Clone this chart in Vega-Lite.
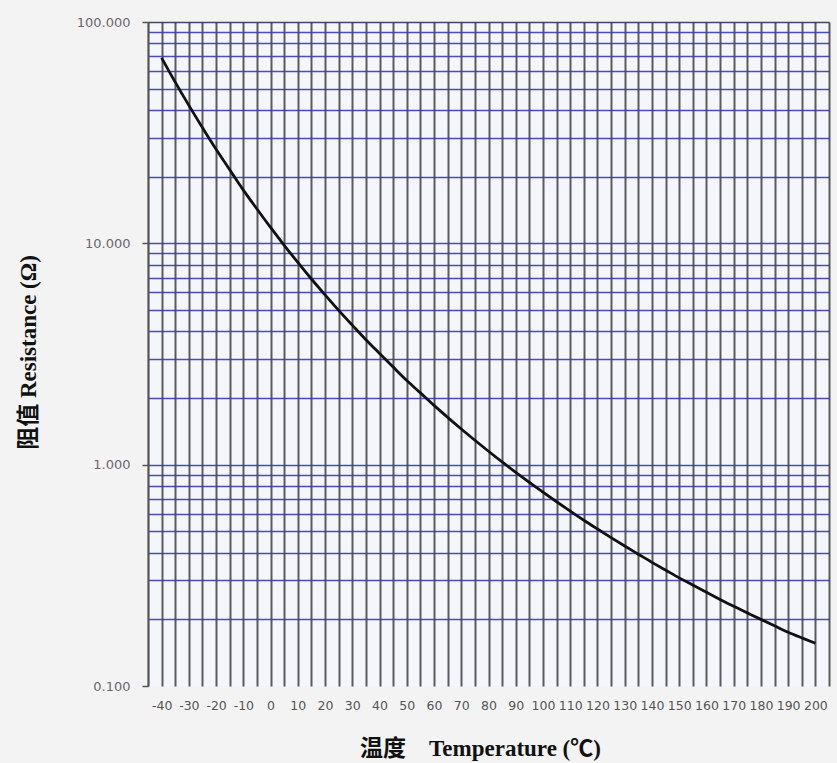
{
  "$schema": "https://vega.github.io/schema/vega-lite/v6.json",
  "width": 681,
  "height": 664,
  "autosize": {"type": "none"},
  "padding": {"left": 148, "top": 22, "right": 8, "bottom": 77},
  "background": "#f3f3f3",
  "config": {
    "view": {"stroke": null, "fill": "#f5f6fb"}
  },
  "data": {
    "values": [
      {"t": -40, "r": 68.9}, {"t": -35, "r": 53.5}, {"t": -30, "r": 42.0}, {"t": -25, "r": 33.3},
      {"t": -20, "r": 26.6}, {"t": -15, "r": 21.5}, {"t": -10, "r": 17.4}, {"t": -5, "r": 14.3},
      {"t": 0, "r": 11.8}, {"t": 5, "r": 9.8}, {"t": 10, "r": 8.2}, {"t": 15, "r": 6.9},
      {"t": 20, "r": 5.85}, {"t": 25, "r": 4.98}, {"t": 30, "r": 4.27}, {"t": 35, "r": 3.67},
      {"t": 40, "r": 3.18}, {"t": 45, "r": 2.76}, {"t": 50, "r": 2.40}, {"t": 55, "r": 2.11},
      {"t": 60, "r": 1.853}, {"t": 65, "r": 1.636}, {"t": 70, "r": 1.449}, {"t": 75, "r": 1.289},
      {"t": 80, "r": 1.150}, {"t": 85, "r": 1.029}, {"t": 90, "r": 0.924}, {"t": 95, "r": 0.832},
      {"t": 100, "r": 0.751}, {"t": 105, "r": 0.680}, {"t": 110, "r": 0.617}, {"t": 115, "r": 0.561},
      {"t": 120, "r": 0.512}, {"t": 125, "r": 0.468}, {"t": 130, "r": 0.429}, {"t": 135, "r": 0.394},
      {"t": 140, "r": 0.362}, {"t": 145, "r": 0.334}, {"t": 150, "r": 0.308}, {"t": 155, "r": 0.286},
      {"t": 160, "r": 0.265}, {"t": 165, "r": 0.246}, {"t": 170, "r": 0.229}, {"t": 175, "r": 0.214},
      {"t": 180, "r": 0.200}, {"t": 185, "r": 0.187}, {"t": 190, "r": 0.175}, {"t": 195, "r": 0.165},
      {"t": 200, "r": 0.156}
    ]
  },
  "mark": {"type": "line", "color": "#111111", "strokeWidth": 2.8, "interpolate": "monotone"},
  "encoding": {
    "x": {
      "field": "t",
      "type": "quantitative",
      "scale": {"domain": [-45, 205], "nice": false, "zero": false},
      "axis": {
        "values": [-45,-40,-35,-30,-25,-20,-15,-10,-5,0,5,10,15,20,25,30,35,40,45,50,55,60,65,70,75,80,85,90,95,100,105,110,115,120,125,130,135,140,145,150,155,160,165,170,175,180,185,190,195,200,205],
        "labelExpr": "(datum.value % 10 === 0 && datum.value >= -40 && datum.value <= 200) ? '' + datum.value : ''",
        "labelOverlap": false,
        "labelFlush": false,
        "labelFont": "DejaVu Sans",
        "labelFontSize": 12.5,
        "labelColor": "#555555",
        "labelPadding": 13,
        "ticks": false,
        "domain": false,
        "grid": true,
        "gridColor": "#4a4a4a",
        "gridWidth": 2,
        "gridOpacity": 0.9,
        "title": "温度\u3000Temperature (℃)",
        "titleFont": "Liberation Serif, Noto Sans CJK SC",
        "titleFontSize": 23,
        "titleFontWeight": "bold",
        "titleColor": "#111111",
        "titleX": 332,
        "titleY": 62,
        "titleAlign": "center",
        "titleBaseline": "middle"
      }
    },
    "y": {
      "field": "r",
      "type": "quantitative",
      "scale": {"type": "log", "domain": [0.1, 100], "nice": false},
      "axis": {
        "values": [0.1,0.2,0.3,0.4,0.5,0.6,0.7,0.8,0.9,1,2,3,4,5,6,7,8,9,10,20,30,40,50,60,70,80,90,100],
        "labelExpr": "indexof([0.1,1,10,100], datum.value) >= 0 ? format(datum.value, '.3f') : ''",
        "labelOverlap": false,
        "labelFont": "DejaVu Sans",
        "labelFontSize": 13,
        "labelColor": "#6e6670",
        "labelPadding": 12,
        "tickSize": 6,
        "tickColor": "#555555",
        "tickWidth": 1.5,
        "tickOpacity": {"condition": {"test": "indexof([0.1,1,10,100], datum.value) >= 0", "value": 1}, "value": 0},
        "domain": true,
        "domainColor": "#555555",
        "domainWidth": 1.5,
        "grid": true,
        "gridColor": {"condition": {"test": "datum.value === 100", "value": "#33335a"}, "value": "#3a3ab0"},
        "gridWidth": 1.6,
        "gridOpacity": {"condition": {"test": "datum.value === 0.1", "value": 0}, "value": 0.9},
        "title": "阻值 Resistance (Ω)",
        "titleFont": "Liberation Serif, Noto Sans CJK SC",
        "titleFontSize": 23,
        "titleFontWeight": "bold",
        "titleColor": "#111111",
        "titleX": -120,
        "titleY": 330,
        "titleAngle": -90,
        "titleAlign": "center",
        "titleBaseline": "middle"
      }
    }
  }
}
